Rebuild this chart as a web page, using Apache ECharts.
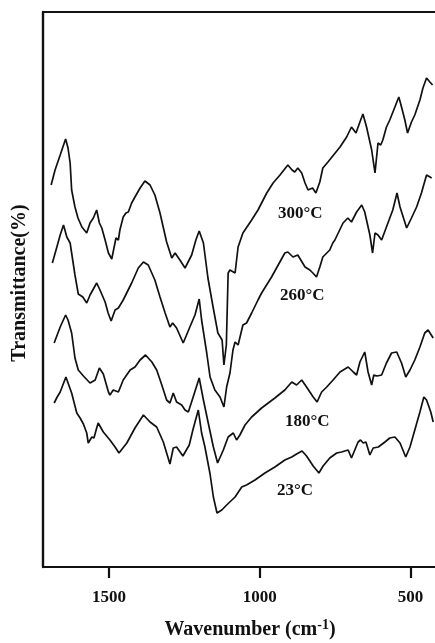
<!DOCTYPE html>
<html>
<head>
<meta charset="utf-8">
<script src="https://cdn.jsdelivr.net/npm/echarts@6/dist/echarts.min.js"></script>
<style>
  html, body { margin: 0; padding: 0; background: #fff; }
  #chart { width: 435px; height: 643px; }
</style>
</head>
<body>
<div id="chart"></div>
<script>
// Wavenumber (cm^-1), relative transmittance (offset, arbitrary units)
const spectrum300 = [
  [1692,382],[1679,397],[1662,412],[1644,428],[1636,419],[1629,404],[1624,377],[1613,360],[1603,349],
  [1590,340],[1574,334],[1563,344],[1552,349],[1541,357],[1532,344],[1524,339],[1513,327],[1502,314],
  [1491,308],[1483,320],[1477,329],[1469,327],[1464,337],[1453,350],[1444,354],[1436,355],[1425,364],
  [1414,370],[1397,379],[1381,386],[1364,382],[1348,372],[1331,354],[1309,325],[1292,309],[1281,314],
  [1265,307],[1248,299],[1226,312],[1212,327],[1201,336],[1187,324],[1172,289],[1155,260],[1139,234],
  [1125,227],[1119,202],[1111,222],[1105,294],[1099,297],[1082,294],[1072,320],[1056,334],[1027,347],
  [1006,357],[977,374],[956,384],[933,392],[907,402],[893,397],[884,395],[874,399],[861,394],[850,384],
  [840,377],[834,375],[825,379],[814,374],[801,385],[791,399],[774,405],[758,411],[734,420],[712,430],
  [696,440],[681,434],[668,445],[658,453],[646,440],[629,417],[618,394],[608,424],[599,422],[592,427],
  [580,440],[569,447],[552,460],[539,470],[530,460],[519,447],[510,434],[497,445],[486,452],[469,467],
  [459,479],[447,489],[436,485],[427,482]
];
const spectrum260 = [
  [1688,304],[1673,320],[1662,332],[1651,342],[1640,330],[1629,324],[1624,314],[1613,292],[1602,273],
  [1587,270],[1574,264],[1563,272],[1552,278],[1541,284],[1530,277],[1513,265],[1503,254],[1493,246],
  [1480,257],[1469,259],[1453,267],[1425,284],[1403,299],[1386,305],[1370,302],[1348,287],[1331,270],
  [1314,254],[1298,240],[1289,244],[1276,239],[1254,224],[1232,240],[1215,252],[1201,268],[1193,247],
  [1176,214],[1165,190],[1149,177],[1132,170],[1119,160],[1110,180],[1099,194],[1089,217],[1082,225],
  [1072,222],[1056,242],[1044,244],[1027,254],[1006,267],[994,274],[961,290],[917,314],[907,315],
  [890,310],[874,312],[850,300],[834,297],[824,294],[812,290],[801,300],[791,310],[778,314],[768,317],
  [758,324],[751,327],[724,344],[708,349],[696,345],[679,355],[662,362],[652,355],[635,332],[626,314],
  [618,334],[608,332],[596,327],[580,340],[559,357],[545,374],[535,360],[513,339],[497,349],[480,360],
  [464,374],[447,392],[430,389]
];
const spectrum180 = [
  [1682,224],[1672,232],[1662,240],[1644,252],[1636,247],[1624,234],[1613,209],[1602,197],[1585,191],
  [1563,184],[1546,187],[1532,199],[1519,193],[1502,175],[1497,172],[1486,177],[1469,175],[1453,187],
  [1430,197],[1414,200],[1397,207],[1379,212],[1358,205],[1342,197],[1325,182],[1309,167],[1298,164],
  [1287,174],[1276,165],[1259,162],[1248,157],[1237,155],[1221,170],[1201,189],[1187,167],[1171,144],
  [1154,120],[1140,104],[1121,117],[1105,130],[1088,134],[1077,127],[1066,132],[1049,142],[1027,150],
  [994,159],[950,169],[917,177],[894,185],[878,182],[861,187],[845,180],[823,170],[810,165],[795,175],
  [778,180],[757,187],[734,195],[707,200],[690,195],[679,192],[668,205],[652,215],[641,195],[629,182],
  [622,192],[611,191],[596,192],[580,204],[563,214],[546,215],[530,204],[516,190],[502,197],[486,207],
  [469,220],[453,234],[442,237],[425,229]
];
const spectrum23 = [
  [1682,164],[1672,170],[1662,175],[1643,190],[1624,174],[1607,154],[1596,149],[1585,143],[1574,134],
  [1569,124],[1563,127],[1557,130],[1550,129],[1541,139],[1536,144],[1519,135],[1497,127],[1480,120],
  [1467,114],[1441,124],[1414,139],[1386,152],[1364,145],[1342,140],[1320,125],[1298,103],[1287,119],
  [1276,120],[1255,111],[1234,122],[1222,137],[1204,157],[1193,134],[1182,120],[1165,93],[1154,70],
  [1142,54],[1126,57],[1110,62],[1082,70],[1060,80],[1044,82],[1016,87],[983,94],[950,100],[917,107],
  [894,110],[878,113],[860,116],[845,111],[823,101],[804,94],[790,101],[768,109],[745,114],[729,115],
  [707,117],[696,109],[685,117],[674,125],[666,127],[657,124],[648,125],[635,112],[624,119],[607,120],
  [585,125],[569,129],[552,130],[535,124],[516,110],[502,120],[486,137],[469,155],[456,170],[447,167],
  [433,155],[425,145]
];
const seriesNames = ['300°C', '260°C', '180°C', '23°C'];
const tickLabels = [500, 1000, 1500];

const serif = '"Liberation Serif", "Times New Roman", "DejaVu Serif", serif';
const ink = '#111';

const chart = echarts.init(document.getElementById('chart'), null, { renderer: 'canvas' });

function lineSeries(name, data) {
  return {
    name: name, type: 'line', data: data, symbol: 'none', smooth: false,
    lineStyle: { color: ink, width: 1.7 }, silent: true, animation: false, z: 3
  };
}

const option = {
  backgroundColor: '#fff',
  animation: false,
  grid: { left: 43, right: 0, top: 12, bottom: 76, containLabel: false },
  xAxis: [
    {
      type: 'value', inverse: true, min: 419, max: 1719,
      axisLine: { show: true, lineStyle: { color: ink, width: 2.2 } },
      axisTick: { show: true, inside: false, length: 11, customValues: tickLabels,
                  lineStyle: { color: ink, width: 2.2 } },
      axisLabel: { show: true, customValues: tickLabels, margin: 22,
                   formatter: function (v) { return String(v); },
                   fontFamily: serif, fontWeight: 'bold', fontSize: 17, color: ink },
      splitLine: { show: false }
    },
    {
      type: 'value', inverse: true, min: 419, max: 1719, position: 'top',
      axisLine: { show: true, lineStyle: { color: ink, width: 2.2 } },
      axisTick: { show: false }, axisLabel: { show: false }, splitLine: { show: false }
    }
  ],
  yAxis: {
    type: 'value', min: 0, max: 555,
    axisLine: { show: true, lineStyle: { color: ink, width: 2.4 } },
    axisTick: { show: false }, axisLabel: { show: false }, splitLine: { show: false }
  },
  series: [
    lineSeries(seriesNames[0], spectrum300),
    lineSeries(seriesNames[1], spectrum260),
    lineSeries(seriesNames[2], spectrum180),
    lineSeries(seriesNames[3], spectrum23)
  ],
  graphic: [
    { type: 'text', left: 278, top: 205, style: { text: seriesNames[0], font: 'bold 17px ' + serif, fill: ink } },
    { type: 'text', left: 280, top: 287, style: { text: seriesNames[1], font: 'bold 17px ' + serif, fill: ink } },
    { type: 'text', left: 285, top: 413, style: { text: seriesNames[2], font: 'bold 17px ' + serif, fill: ink } },
    { type: 'text', left: 277, top: 482, style: { text: seriesNames[3], font: 'bold 17px ' + serif, fill: ink } },
    {
      type: 'text', x: 20, y: 283, rotation: Math.PI / 2,
      style: { text: 'Transmittance(%)', font: 'bold 20px ' + serif, fill: ink,
               align: 'center', verticalAlign: 'middle' }
    },
    {
      type: 'text', x: 250, y: 630,
      style: {
        text: '{m|Wavenumber (cm}{s|-1}{m|)}', align: 'center', verticalAlign: 'middle',
        rich: {
          m: { font: 'bold 20px ' + serif, fill: ink, color: ink },
          s: { font: 'bold 14px ' + serif, fill: ink, color: ink, verticalAlign: 'top', padding: [0, 0, 10, 0] }
        }
      }
    }
  ]
};
chart.setOption(option);
</script>
</body>
</html>
